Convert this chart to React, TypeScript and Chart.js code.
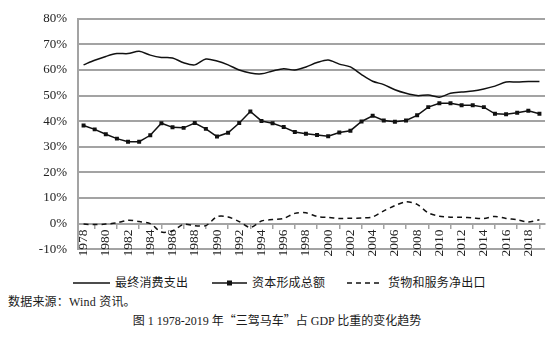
import React, { useEffect, useRef } from "react";
import { Chart, registerables } from "chart.js";

Chart.register(...registerables);

const years = [
  "1978", "1979", "1980", "1981", "1982", "1983", "1984", "1985", "1986", "1987",
  "1988", "1989", "1990", "1991", "1992", "1993", "1994", "1995", "1996", "1997",
  "1998", "1999", "2000", "2001", "2002", "2003", "2004", "2005", "2006", "2007",
  "2008", "2009", "2010", "2011", "2012", "2013", "2014", "2015", "2016", "2017",
  "2018", "2019",
];

const consumption = [
  62.0, 63.8, 65.3, 66.4, 66.4, 67.3, 65.8, 64.9, 64.7, 62.8,
  62.0, 64.3, 63.5, 62.0, 60.0, 58.8, 58.5, 59.6, 60.5, 60.0,
  61.2, 62.9, 63.9, 62.3, 61.2, 58.2, 55.6, 54.3, 52.3, 50.9,
  50.0, 50.2, 49.4, 50.9, 51.4, 51.8, 52.6, 53.7, 55.3, 55.3,
  55.5, 55.5,
];

const capital = [
  38.3, 36.8, 34.9, 33.2, 32.0, 32.0, 34.5, 39.2, 37.6, 37.4,
  39.3, 37.0, 34.0, 35.5, 39.3, 43.8, 40.1, 39.2, 37.7, 35.8,
  35.1, 34.6, 34.1, 35.6, 36.3, 39.9, 42.1, 40.3, 39.8, 40.3,
  42.3, 45.5, 47.0, 47.0, 46.2, 46.2, 45.5, 42.9, 42.7, 43.3,
  44.1, 42.9,
];

const netExports = [
  -0.2, -0.4, -0.2, 0.3, 1.3, 0.8, 0.0, -3.3, -2.8, -0.3,
  -0.8, -0.8, 2.7, 2.6, 0.8, -1.5, 1.0, 1.6, 2.0, 4.0,
  4.2, 2.8, 2.4, 2.0, 2.1, 2.2, 2.6, 5.0, 7.0, 8.5,
  7.5, 4.2, 2.9, 2.5, 2.5, 2.2, 2.0, 2.8, 2.0, 1.5,
  0.6, 1.5,
];

const yTicks = ["-10%", "0%", "10%", "20%", "30%", "40%", "50%", "60%", "70%", "80%"];

const legendLabels = ["最终消费支出", "资本形成总额", "货物和服务净出口"];
const sourceText = "数据来源：Wind 资讯。";
const captionParts = ["图 1 1978-2019 年", "“三驾马车”", "占 GDP 比重的变化趋势"];

const GRID = "#a3a3a3";
const LATIN = "'Liberation Serif', 'Noto Sans CJK SC', serif";
const CJK = "'Liberation Serif', 'Noto Sans CJK SC', serif";
const CJK_ONLY = "'Noto Sans CJK SC', sans-serif";

export default function App() {
  const ref = useRef<HTMLCanvasElement | null>(null);

  useEffect(() => {
    if (!ref.current) return;
    const chart = new Chart(ref.current, {
      type: "line",
      data: {
        labels: years,
        datasets: [
          {
            label: legendLabels[0],
            data: consumption,
            borderColor: "#111",
            borderWidth: 1.5,
            pointRadius: 0,
            tension: 0.3,
          },
          {
            label: legendLabels[1],
            data: capital,
            borderColor: "#111",
            borderWidth: 1.5,
            pointStyle: "rect",
            pointRadius: 2.8,
            pointBackgroundColor: "#111",
            pointBorderColor: "#111",
            pointBorderWidth: 0,
            tension: 0,
          },
          {
            label: legendLabels[2],
            data: netExports,
            borderColor: "#111",
            borderWidth: 1.5,
            borderDash: [5, 4],
            pointRadius: 0,
            tension: 0.3,
          },
        ],
      },
      options: {
        animation: false,
        responsive: false,
        devicePixelRatio: 1,
        layout: { padding: { left: 0, right: 9, top: 8, bottom: 4 } },
        plugins: {
          legend: { display: false },
          tooltip: { enabled: false },
        },
        scales: {
          x: {
            type: "category",
            offset: true,
            position: { y: 0 } as any,
            grid: {
              display: true,
              drawOnChartArea: false,
              drawTicks: true,
              tickLength: 4,
              color: GRID,
              lineWidth: 1.5,
              offset: true,
            },
            border: { display: true, color: GRID, width: 2 },
            ticks: {
              autoSkip: false,
              minRotation: 90,
              maxRotation: 90,
              padding: 2,
              color: "#222",
              font: { family: LATIN, size: 13.5 },
              callback: (_v: any, i: number) => (i % 2 === 0 ? years[i] : null),
            },
          },
          y: {
            min: -10,
            max: 80,
            afterFit: (s: any) => {
              s.width = 78;
            },
            grid: { color: GRID, lineWidth: 2, drawTicks: false },
            border: { display: true, color: GRID, width: 2 },
            ticks: {
              stepSize: 10,
              padding: 11,
              color: "#222",
              font: { family: LATIN, size: 13 },
              callback: (v: any) => yTicks[Math.round((Number(v) + 10) / 10)],
            },
          },
        },
      },
    });
    return () => chart.destroy();
  }, []);

  const textStyle: React.CSSProperties = {
    position: "absolute",
    fontFamily: CJK,
    fontSize: 12,
    lineHeight: "16px",
    color: "#1a1a1a",
    whiteSpace: "nowrap",
    letterSpacing: 0.2,
  };

  return (
    <div style={{ position: "absolute", left: 0, top: 0, width: 554, height: 358, background: "#fff" }}>
      <canvas ref={ref} width={554} height={268} style={{ position: "absolute", left: 0, top: 0, width: 554, height: 268 }} />
      <svg width={554} height={20} style={{ position: "absolute", left: 0, top: 273 }}>
        <line x1={73} y1={10} x2={110} y2={10} stroke="#111" strokeWidth={1.5} />
        <line x1={212} y1={10} x2={247} y2={10} stroke="#111" strokeWidth={1.5} />
        <rect x={227} y={7.5} width={5} height={5} fill="#111" />
        <line x1={347} y1={10} x2={382} y2={10} stroke="#111" strokeWidth={1.5} strokeDasharray="5,4" />
      </svg>
      <div style={{ ...textStyle, left: 115, top: 275 }}>{legendLabels[0]}</div>
      <div style={{ ...textStyle, left: 252, top: 275 }}>{legendLabels[1]}</div>
      <div style={{ ...textStyle, left: 388, top: 275 }}>{legendLabels[2]}</div>
      <div style={{ ...textStyle, left: 8, top: 294 }}>{sourceText}</div>
      <div style={{ ...textStyle, left: 0, top: 312, width: 554, textAlign: "center", letterSpacing: 0 }}>
        {captionParts[0]}
        <span style={{ fontFamily: CJK_ONLY }}>{captionParts[1]}</span>
        {captionParts[2]}
      </div>
    </div>
  );
}
